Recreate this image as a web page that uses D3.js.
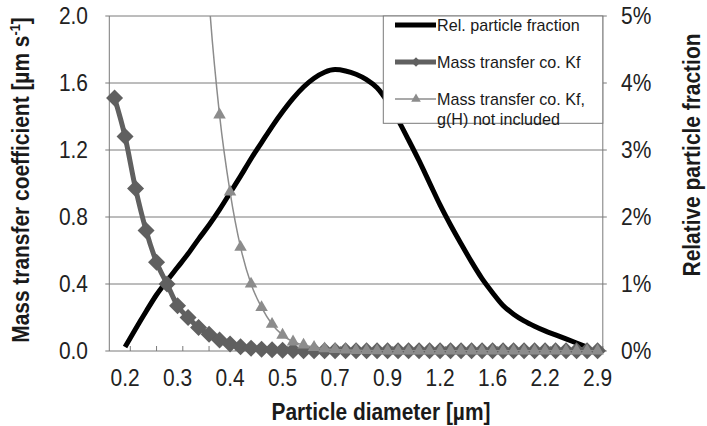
<!DOCTYPE html>
<html>
<head>
<meta charset="utf-8">
<script src="https://cdn.jsdelivr.net/npm/d3@7"></script>
<style>
  body { margin: 0; background: #fff; }
  svg { display: block; font-family: "Liberation Sans", Arial, sans-serif; }
</style>
</head>
<body>
<svg id="chart" width="707" height="426"></svg>
<script>
// particle diameter classes [µm] (category axis)
const diameters = [0.188, 0.200, 0.212, 0.225, 0.239, 0.253, 0.269, 0.285, 0.303, 0.321,
  0.341, 0.362, 0.384, 0.407, 0.432, 0.459, 0.487, 0.517, 0.548, 0.582,
  0.618, 0.656, 0.696, 0.739, 0.784, 0.832, 0.883, 0.937, 0.995, 1.056,
  1.120, 1.189, 1.262, 1.339, 1.421, 1.508, 1.600, 1.700, 1.805, 1.915,
  2.035, 2.160, 2.290, 2.430, 2.580, 2.735, 2.900];

// relative particle fraction [%], right axis
const relFraction = [null, 0.06, 0.33, 0.59, 0.84, 1.05, 1.25, 1.45, 1.67, 1.88,
  2.11, 2.36, 2.61, 2.87, 3.11, 3.35, 3.57, 3.77, 3.94, 4.07,
  4.16, 4.20, 4.18, 4.13, 4.05, 3.93, 3.72, 3.45, 3.15, 2.84,
  2.51, 2.18, 1.88, 1.60, 1.33, 1.08, 0.87, 0.68, 0.55, 0.45,
  0.37, 0.30, 0.24, 0.18, 0.12, 0.06, null];

// mass transfer coefficient Kf [µm/s]
const kf = [1.51, 1.28, 0.97, 0.72, 0.53, 0.40, 0.27, 0.20, 0.14, 0.10,
  0.066, 0.042, 0.026, 0.017, 0.011, 0.007, 0.005, 0.003, 0.002, 0.001,
  0.001, 0.001, 0.001, 0.001, 0.001, 0.001, 0.001, 0.001, 0.001, 0.001,
  0.001, 0.001, 0.001, 0.001, 0.001, 0.001, 0.001, 0.001, 0.001, 0.001,
  0.001, 0.001, 0.001, 0.001, 0.001, 0.001, 0.001];

// Kf without g(H) [µm/s] (first values are off the top of the axis)
const kfNoG = [48.0, 37.0, 27.5, 20.0, 14.5, 10.3, 7.1, 4.8, 3.2, 2.1,
  1.41, 0.95, 0.62, 0.40, 0.26, 0.16, 0.095, 0.055, 0.036, 0.022,
  0.014, 0.009, 0.006, 0.004, 0.003, 0.002, 0.001, 0.001, 0.001, 0.001,
  0.001, 0.001, 0.001, 0.001, 0.001, 0.001, 0.001, 0.001, 0.001, 0.001,
  0.001, 0.001, 0.001, 0.001, 0.001, 0.001, 0.001];

const leftTicks = [0, 0.4, 0.8, 1.2, 1.6, 2.0];
const rightTicks = [0, 0.01, 0.02, 0.03, 0.04, 0.05];
const labelEvery = 5, labelStart = 1;

const svg = d3.select("#chart");
const pLeft = 109.3, pRight = 602.8, pTop = 16, pBottom = 351;
const sx = 0.91; // the original text is a bit narrow / tall

const x = d3.scaleLinear().domain([-0.5, diameters.length - 0.5]).range([pLeft, pRight]);
const yL = d3.scaleLinear().domain([0, 2]).range([pBottom, pTop]);
const yR = d3.scaleLinear().domain([0, 0.05]).range([pBottom, pTop]);

svg.append("defs").append("clipPath").attr("id", "plot")
  .append("rect").attr("x", pLeft).attr("y", pTop).attr("width", pRight - pLeft).attr("height", pBottom - pTop);

// grid + axis lines
svg.append("g").selectAll("line").data(leftTicks).join("line")
  .attr("x1", pLeft - 4).attr("x2", pRight + 4)
  .attr("y1", d => yL(d)).attr("y2", d => yL(d))
  .attr("stroke", "#7a7a7a").attr("stroke-width", 1);
svg.append("line").attr("x1", pLeft).attr("x2", pLeft).attr("y1", pTop).attr("y2", pBottom).attr("stroke", "#7a7a7a");
svg.append("line").attr("x1", pRight).attr("x2", pRight).attr("y1", pTop).attr("y2", pBottom).attr("stroke", "#7a7a7a");
svg.append("g").selectAll("line").data(d3.range(1.5, diameters.length, 2.5)).join("line")
  .attr("x1", d => x(d)).attr("x2", d => x(d))
  .attr("y1", pBottom).attr("y2", pBottom - 5)
  .attr("stroke", "#7a7a7a");

// tick labels
svg.append("g").selectAll("text").data(leftTicks).join("text")
  .attr("transform", d => `translate(88,${yL(d)}) scale(${sx},1)`).attr("dy", "0.36em")
  .attr("text-anchor", "end").attr("font-size", 23).attr("fill", "#222")
  .text(d3.format(".1f"));
svg.append("g").selectAll("text").data(rightTicks).join("text")
  .attr("transform", d => `translate(621,${yR(d)}) scale(${sx},1)`).attr("dy", "0.36em")
  .attr("font-size", 23).attr("fill", "#222")
  .text(d3.format(".0%"));
const labelIdx = d3.range(labelStart, diameters.length, labelEvery);
svg.append("g").selectAll("text").data(labelIdx).join("text")
  .attr("transform", i => `translate(${x(i)},386) scale(${sx},1)`)
  .attr("text-anchor", "middle").attr("font-size", 23).attr("fill", "#222")
  .text(i => d3.format(".1f")(diameters[i]));

// axis titles
svg.append("text").attr("transform", `translate(381,420) scale(${sx},1)`).attr("text-anchor", "middle")
  .attr("font-size", 23).attr("font-weight", "bold").attr("fill", "#1a1a1a")
  .text("Particle diameter [µm]");
const lt = svg.append("text").attr("transform", `translate(29,180) rotate(-90) scale(${sx},1)`)
  .attr("text-anchor", "middle").attr("font-size", 23).attr("font-weight", "bold").attr("fill", "#1a1a1a");
lt.append("tspan").text("Mass transfer coefficient [µm s");
lt.append("tspan").attr("dy", -9).attr("font-size", 14).text("-1");
lt.append("tspan").attr("dy", 9).text("]");
svg.append("text").attr("transform", `translate(700,155) rotate(-90) scale(${sx},1)`)
  .attr("text-anchor", "middle").attr("font-size", 23).attr("font-weight", "bold").attr("fill", "#1a1a1a")
  .text("Relative particle fraction");

// series
const series = svg.append("g").attr("clip-path", "url(#plot)");
series.append("path")
  .attr("d", d3.line().defined(d => d != null).x((d, i) => x(i)).y(d => yR(d / 100)).curve(d3.curveMonotoneX)(relFraction))
  .attr("fill", "none").attr("stroke", "#000").attr("stroke-width", 5);

const kfColor = "#606060", noGColor = "#8c8c8c";
series.append("path")
  .attr("d", d3.line().x((d, i) => x(i)).y(d => yL(d)).curve(d3.curveMonotoneX)(kf))
  .attr("fill", "none").attr("stroke", kfColor).attr("stroke-width", 5);
const diamond = d3.symbol(d3.symbolSquare, 145)();
svg.append("g").selectAll("path").data(kf).join("path")
  .attr("d", diamond)
  .attr("transform", (d, i) => `translate(${x(i)},${yL(d)}) rotate(45)`)
  .attr("fill", kfColor);

const noG = svg.append("g").attr("clip-path", "url(#plot)");
noG.append("path")
  .attr("d", d3.line().x((d, i) => x(i)).y(d => yL(d)).curve(d3.curveMonotoneX)(kfNoG))
  .attr("fill", "none").attr("stroke", noGColor).attr("stroke-width", 1.5);
const tri = d3.symbol(d3.symbolTriangle, 68)();
svg.append("g").selectAll("path").data(kfNoG.map((v, i) => [i, v]).filter(d => d[1] <= 2)).join("path")
  .attr("d", tri)
  .attr("transform", d => `translate(${x(d[0])},${yL(d[1])})`)
  .attr("fill", noGColor);

// legend
const lg = svg.append("g");
lg.append("rect").attr("x", 383.3).attr("y", pTop).attr("width", pRight - 383.3).attr("height", 107.3)
  .attr("fill", "#fff").attr("stroke", "#7a7a7a");
const items = [
  { label: ["Rel. particle fraction"], color: "#000", width: 5, marker: null, y: 25 },
  { label: ["Mass transfer co. Kf"], color: kfColor, width: 5, marker: "diamond", y: 62 },
  { label: ["Mass transfer co. Kf,", "g(H) not included"], color: noGColor, width: 1.5, marker: "tri", y: 99 }
];
items.forEach(it => {
  lg.append("line").attr("x1", 395).attr("x2", 436).attr("y1", it.y).attr("y2", it.y)
    .attr("stroke", it.color).attr("stroke-width", it.width);
  if (it.marker === "diamond") {
    lg.append("path").attr("d", d3.symbol(d3.symbolSquare, 45)())
      .attr("transform", `translate(416,${it.y}) rotate(45)`).attr("fill", it.color);
  } else if (it.marker === "tri") {
    lg.append("path").attr("d", d3.symbol(d3.symbolTriangle, 40)())
      .attr("transform", `translate(416,${it.y})`).attr("fill", it.color);
  }
  it.label.forEach((t, k) => {
    lg.append("text").attr("transform", `translate(437,${it.y + 6 + k * 19.5}) scale(0.95,1)`)
      .attr("font-size", 17).attr("fill", "#1a1a1a").text(t);
  });
});
</script>
</body>
</html>
